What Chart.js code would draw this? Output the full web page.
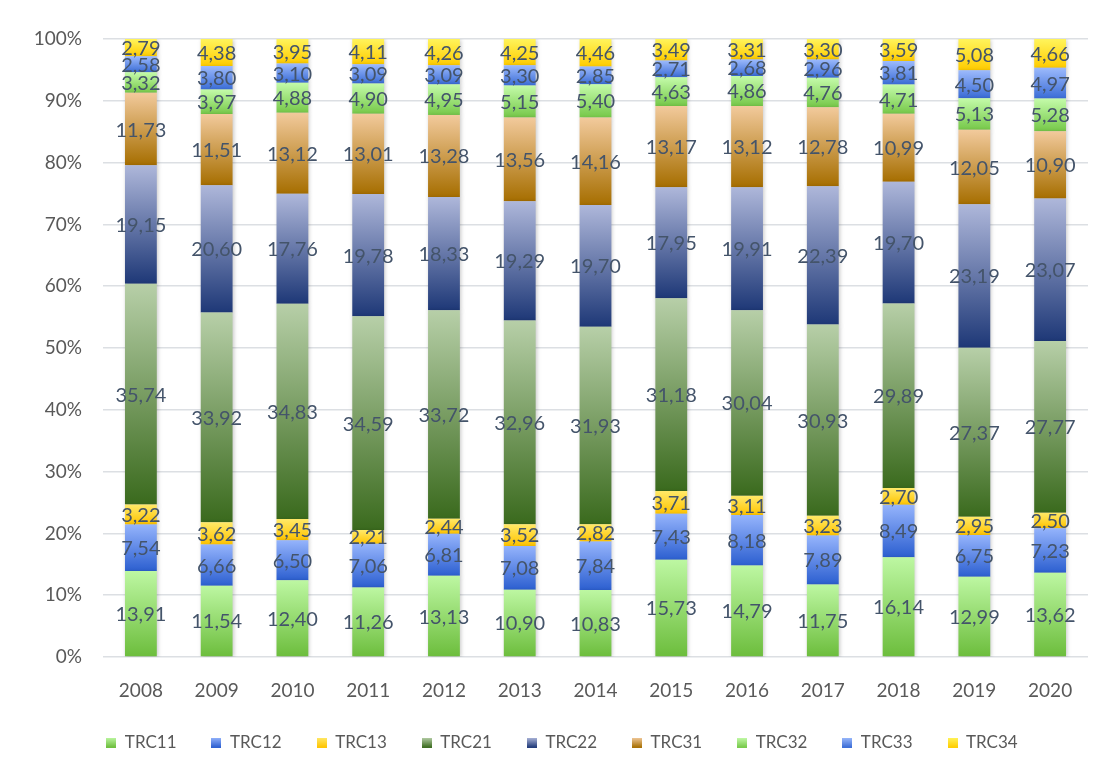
<!DOCTYPE html>
<html>
<head>
<meta charset="utf-8">
<script src="https://cdn.jsdelivr.net/npm/chart.js@4"></script>
<style>
  body { margin: 0; background: #fff; }
  canvas { display: block; }
</style>
</head>
<body>
<canvas id="c" width="1107" height="774"></canvas>
<script>
const years = ['2008', '2009', '2010', '2011', '2012', '2013', '2014', '2015', '2016', '2017', '2018', '2019', '2020'];

const trc11 = [13.91, 11.54, 12.40, 11.26, 13.13, 10.90, 10.83, 15.73, 14.79, 11.75, 16.14, 12.99, 13.62];
const trc12 = [7.54, 6.66, 6.50, 7.06, 6.81, 7.08, 7.84, 7.43, 8.18, 7.89, 8.49, 6.75, 7.23];
const trc13 = [3.22, 3.62, 3.45, 2.21, 2.44, 3.52, 2.82, 3.71, 3.11, 3.23, 2.70, 2.95, 2.50];
const trc21 = [35.74, 33.92, 34.83, 34.59, 33.72, 32.96, 31.93, 31.18, 30.04, 30.93, 29.89, 27.37, 27.77];
const trc22 = [19.15, 20.60, 17.76, 19.78, 18.33, 19.29, 19.70, 17.95, 19.91, 22.39, 19.70, 23.19, 23.07];
const trc31 = [11.73, 11.51, 13.12, 13.01, 13.28, 13.56, 14.16, 13.17, 13.12, 12.78, 10.99, 12.05, 10.90];
const trc32 = [3.32, 3.97, 4.88, 4.90, 4.95, 5.15, 5.40, 4.63, 4.86, 4.76, 4.71, 5.13, 5.28];
const trc33 = [2.58, 3.80, 3.10, 3.09, 3.09, 3.30, 2.85, 2.71, 2.68, 2.96, 3.81, 4.50, 4.97];
const trc34 = [2.79, 4.38, 3.95, 4.11, 4.26, 4.25, 4.46, 3.49, 3.31, 3.30, 3.59, 5.08, 4.66];

const yTicks = [0, 10, 20, 30, 40, 50, 60, 70, 80, 90, 100];

// top colour, bottom colour for each series
const series = [
  { label: 'TRC11', data: trc11, top: '#bdf7a2', bottom: '#6cbd3c' },
  { label: 'TRC12', data: trc12, top: '#95b4fc', bottom: '#2c5fd0' },
  { label: 'TRC13', data: trc13, top: '#ffe969', bottom: '#ffc400' },
  { label: 'TRC21', data: trc21, top: '#b7cfa8', bottom: '#3a6a1d' },
  { label: 'TRC22', data: trc22, top: '#aeb7da', bottom: '#1e3877' },
  { label: 'TRC31', data: trc31, top: '#f2ca9c', bottom: '#a66e00' },
  { label: 'TRC32', data: trc32, top: '#c4fbaa', bottom: '#76c849' },
  { label: 'TRC33', data: trc33, top: '#9cbafc', bottom: '#3a6cd6' },
  { label: 'TRC34', data: trc34, top: '#fff45c', bottom: '#ffcc00' }
];

function segmentFill(ctx) {
  const chart = ctx.chart;
  const s = series[ctx.datasetIndex];
  if (ctx.type !== 'data' || !chart.chartArea || !chart.scales.y) return s.bottom;
  let start = 0;
  for (let k = 0; k < ctx.datasetIndex; k++) start += series[k].data[ctx.dataIndex];
  const end = start + s.data[ctx.dataIndex];
  const y = chart.scales.y;
  const g = chart.ctx.createLinearGradient(0, y.getPixelForValue(end), 0, y.getPixelForValue(start));
  g.addColorStop(0, s.top);
  g.addColorStop(1, s.bottom);
  return g;
}

function legendSwatch(s) {
  const cv = document.createElement('canvas');
  cv.width = 10; cv.height = 10;
  const c = cv.getContext('2d');
  const g = c.createLinearGradient(0, 0, 0, 10);
  g.addColorStop(0, s.top);
  g.addColorStop(1, s.bottom);
  c.fillStyle = g;
  c.fillRect(0, 0, 10, 10);
  return cv;
}

const swatches = series.map(legendSwatch);

const fmt = v => v.toFixed(2).replace('.', ',');

// nudge the legend a little right and up, like the original
const legendShift = {
  id: 'legendShift',
  afterLayout(chart) {
    const lg = chart.legend;
    if (!lg) return;
    lg.left += 36;
    lg.top -= 2;
    lg.bottom -= 2;
  }
};

const barShadow = {
  id: 'barShadow',
  beforeDatasetsDraw(chart) {
    const c = chart.ctx;
    c.save();
    c.shadowColor = 'rgba(0,0,0,0.22)';
    c.shadowBlur = 4;
    c.shadowOffsetX = 1;
    c.shadowOffsetY = 1;
  },
  afterDatasetsDraw(chart) {
    chart.ctx.restore();
  }
};

const segmentLabels = {
  id: 'segmentLabels',
  afterDatasetsDraw(chart) {
    const c = chart.ctx;
    c.save();
    c.font = '20px Lato, "Open Sans", sans-serif';
    c.fillStyle = '#44546a';
    c.textAlign = 'center';
    c.textBaseline = 'middle';
    chart.data.datasets.forEach((ds, i) => {
      chart.getDatasetMeta(i).data.forEach((bar, j) => {
        const p = bar.getProps(['x', 'y', 'base'], true);
        c.fillText(fmt(ds.data[j]), p.x, (p.y + p.base) / 2 + 1);
      });
    });
    c.restore();
  }
};

new Chart(document.getElementById('c'), {
  type: 'bar',
  data: {
    labels: years,
    datasets: series.map(s => ({
      label: s.label,
      data: s.data,
      backgroundColor: segmentFill,
      borderWidth: 0,
      categoryPercentage: 1,
      barPercentage: 0.42
    }))
  },
  options: {
    responsive: false,
    animation: false,
    events: [],
    layout: { padding: { top: 39, right: 19, bottom: 11, left: 0 } },
    scales: {
      x: {
        stacked: true,
        grid: { display: false },
        border: { display: false },
        ticks: { color: '#595959', font: { family: 'Lato', size: 19 }, padding: 14 },
        afterFit: scale => { scale.height = 44; }
      },
      y: {
        stacked: true,
        min: 0,
        max: 100,
        afterBuildTicks: scale => { scale.ticks = yTicks.map(v => ({ value: v })); },
        afterFit: scale => { scale.width = 103; },
        grid: { color: '#dcdfe3', lineWidth: 1.5, drawTicks: false },
        border: { display: false },
        ticks: {
          color: '#595959',
          font: { family: 'Lato', size: 19 },
          padding: 21,
          callback: v => v + '%'
        }
      }
    },
    plugins: {
      tooltip: { enabled: false },
      legend: {
        position: 'bottom',
        labels: {
          color: '#595959',
          font: { family: 'Lato', size: 17 },
          boxWidth: 10,
          boxHeight: 10,
          padding: 35,
          usePointStyle: true,
          generateLabels: chart => series.map((s, i) => ({
            text: s.label,
            fillStyle: s.bottom,
            strokeStyle: 'transparent',
            lineWidth: 0,
            pointStyle: swatches[i],
            fontColor: '#595959',
            hidden: false,
            datasetIndex: i
          }))
        }
      }
    }
  },
  plugins: [legendShift, barShadow, segmentLabels]
});
</script>
</body>
</html>
